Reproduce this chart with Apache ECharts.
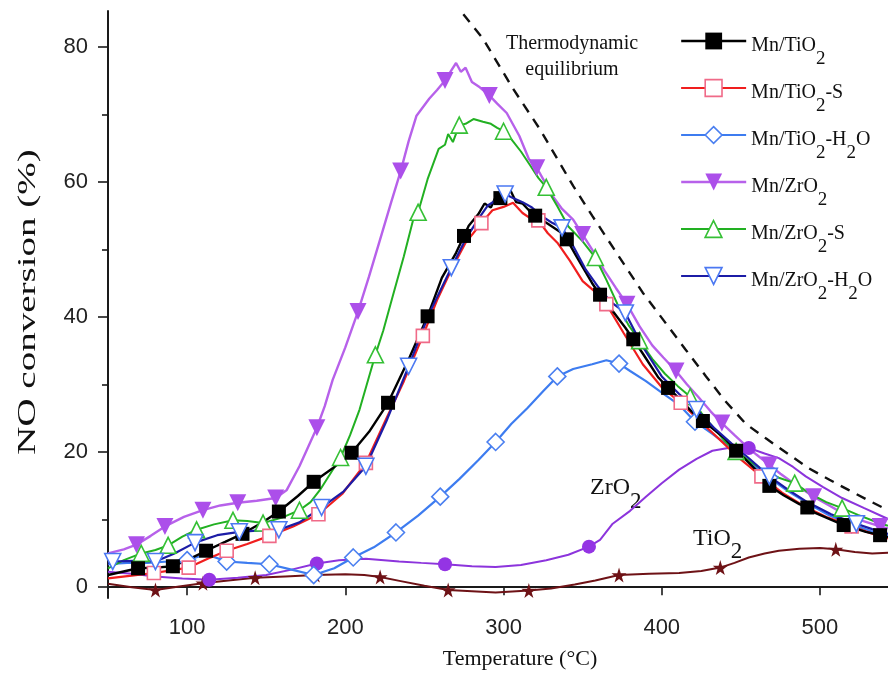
<!DOCTYPE html>
<html>
<head>
<meta charset="utf-8">
<script src="https://cdn.jsdelivr.net/npm/echarts@6/dist/echarts.min.js"></script>
<style>
  html, body { margin: 0; padding: 0; background: #fff; }
  #chart { width: 888px; height: 677px; }
</style>
</head>
<body>
<div id="chart"></div>
<script>
  // ---- data: [temperature °C, NO conversion %] ----
  var xTicks = [100, 200, 300, 400, 500];
  var yTicks = [0, 20, 40, 60, 80];
  var yMinorTicks = [10, 30, 50, 70];

  var mnTiLine = [[50,1.8],[69,2.8],[80,2.9],[91,3.1],[100,4.0],[112,5.4],[124,6.7],[135,7.9],[147,9.5],[158,11.2],[170,13.5],[180,15.6],[192,17.6],[204,19.9],[215,23.0],[227,27.3],[240,33.7],[252,40.1],[261,45.8],[270,49.5],[278,53.5],[284,55.2],[288,56.8],[292,56.2],[296,58.3],[300,57.4],[304,58.9],[308,57.0],[312,56.8],[316,55.8],[320,55.0],[328,53.8],[337,52.4],[346,49.0],[356,45.0],[366,41.8],[377,38.4],[388,34.6],[398,31.0],[409,28.4],[419,26.0],[430,23.9],[440,22.0],[450,19.6],[459,17.5],[468,15.0],[477,13.6],[487,12.3],[497,11.0],[508,9.9],[518,9.0],[529,8.2],[543,7.4]];
  var mnTiMarks = [[69,2.8],[91,3.1],[112,5.4],[135,7.9],[158,11.2],[180,15.6],[204,19.9],[227,27.3],[252,40.1],[275,52.0],[298,57.6],[320,55.0],[340,51.5],[361,43.3],[382,36.7],[404,29.5],[426,24.6],[447,20.2],[468,15.0],[492,11.8],[515,9.2],[538,7.7]];

  var mnTiSLine = [[50,1.3],[65,1.7],[79,2.1],[90,2.5],[101,2.9],[113,4.2],[125,5.4],[138,6.4],[152,7.6],[167,9.0],[183,10.8],[198,13.8],[213,18.4],[225,24.5],[237,30.5],[249,37.2],[258,42.5],[267,47.0],[276,51.0],[286,53.9],[293,55.8],[300,56.3],[306,56.9],[312,55.4],[317,54.6],[322,54.3],[328,52.4],[334,51.0],[342,48.3],[350,45.3],[357,43.9],[365,41.9],[376,37.6],[388,33.0],[400,29.6],[412,27.3],[424,24.6],[436,22.0],[448,19.3],[463,16.4],[476,14.0],[490,12.0],[505,10.3],[520,9.0],[532,8.0],[543,7.2]];
  var mnTiSMarks = [[79,2.1],[101,2.9],[125,5.4],[152,7.6],[183,10.8],[213,18.4],[249,37.2],[286,53.9],[322,54.3],[365,41.9],[412,27.3],[463,16.4],[520,9.0]];

  var mnTiWLine = [[50,3.4],[62,3.6],[75,3.6],[88,3.8],[100,4.0],[112,4.9],[125,3.8],[138,3.6],[152,3.4],[166,2.6],[180,1.8],[193,2.8],[205,4.4],[218,5.9],[232,8.1],[246,10.6],[260,13.4],[272,16.0],[284,18.8],[295,21.5],[305,24.2],[315,26.5],[325,29.0],[334,31.2],[344,32.3],[356,33.0],[365,33.6],[373,33.1],[380,32.0],[390,30.5],[400,28.8],[411,27.0],[421,24.5],[432,22.7],[444,20.6],[456,18.4],[468,16.2],[480,14.2],[493,12.3],[506,10.6],[520,9.3],[532,8.3],[543,7.6]];
  var mnTiWMarks = [[100,4.0],[125,3.8],[152,3.4],[180,1.8],[205,4.4],[232,8.1],[260,13.4],[295,21.5],[334,31.2],[373,33.1],[421,24.5],[468,16.2],[520,9.3]];

  var mnZrLine = [[50,5.0],[60,5.6],[68,6.3],[77,7.6],[86,9.0],[98,10.4],[110,11.4],[121,12.1],[132,12.5],[144,12.8],[156,13.2],[163,14.4],[171,17.9],[176,20.5],[182,23.6],[187,26.8],[192,30.7],[200,35.5],[208,40.8],[215,46.0],[222,51.5],[229,57.0],[235,61.6],[240,66.0],[245,69.8],[253,72.3],[258,73.6],[263,75.0],[267,76.5],[270,77.6],[273,76.3],[276,76.9],[280,74.8],[285,74.0],[291,72.8],[296,71.6],[302,70.2],[310,66.8],[316,63.4],[321,62.1],[326,60.0],[331,57.9],[337,56.0],[344,54.4],[350,52.2],[357,49.6],[364,46.8],[371,44.3],[378,41.9],[386,38.6],[394,35.8],[401,34.0],[409,32.0],[416,30.0],[423,28.2],[431,26.0],[438,24.3],[446,22.5],[453,21.0],[460,19.6],[468,18.1],[475,16.8],[482,15.6],[489,14.5],[496,13.4],[505,12.2],[514,11.0],[522,10.2],[530,9.6],[538,9.0],[543,8.7]];
  var mnZrMarks = [[68,6.3],[86,9.0],[110,11.4],[132,12.5],[156,13.2],[182,23.6],[208,40.8],[235,61.6],[263,75.0],[291,72.8],[321,62.1],[350,52.2],[378,41.9],[409,32.0],[438,24.3],[468,18.1],[496,13.4],[538,9.0]];

  var mnZrSLine = [[50,2.8],[60,4.0],[71,5.0],[80,5.5],[88,6.2],[97,7.5],[106,8.5],[117,9.3],[129,9.9],[138,9.8],[148,9.5],[160,10.3],[171,11.4],[178,12.6],[184,14.4],[190,16.6],[197,19.2],[203,22.5],[209,26.3],[219,34.4],[224,38.0],[230,43.1],[237,49.0],[243,54.5],[246,55.5],[252,60.4],[259,64.9],[263,65.5],[265,67.1],[268,65.9],[272,68.4],[276,68.6],[281,69.3],[287,68.9],[292,68.6],[296,68.0],[300,67.5],[305,66.3],[311,64.5],[317,62.4],[322,60.6],[327,59.2],[334,56.4],[341,53.4],[350,51.2],[358,48.8],[365,45.5],[372,41.9],[379,38.8],[386,36.5],[394,33.8],[402,31.6],[410,29.8],[418,28.2],[425,25.8],[432,23.8],[440,21.6],[447,20.1],[456,18.6],[465,17.2],[474,16.2],[484,15.4],[494,13.8],[504,12.6],[514,11.7],[524,10.7],[534,9.8],[543,9.1]];
  var mnZrSMarks = [[71,5.0],[88,6.2],[106,8.5],[129,9.9],[148,9.5],[171,11.4],[197,19.2],[219,34.4],[246,55.5],[272,68.4],[300,67.5],[327,59.2],[358,48.8],[386,36.5],[418,28.2],[447,20.1],[484,15.4],[514,11.7]];

  var mnZrWLine = [[50,3.5],[53,3.8],[66,3.9],[80,3.8],[92,5.0],[105,6.6],[119,7.7],[133,8.2],[146,8.4],[158,8.5],[171,9.6],[185,11.8],[199,14.2],[213,17.9],[226,24.6],[240,32.7],[253,40.5],[267,47.3],[276,51.5],[284,54.5],[290,56.5],[296,57.4],[301,58.2],[306,57.6],[312,57.0],[318,56.2],[325,54.8],[331,53.9],[337,53.2],[344,50.5],[352,47.0],[360,44.4],[368,42.2],[377,40.6],[388,35.6],[400,31.2],[411,28.6],[422,26.3],[433,23.6],[444,21.3],[456,18.9],[468,16.4],[480,14.4],[492,12.6],[507,10.8],[523,9.4],[533,8.6],[543,7.9]];
  var mnZrWMarks = [[53,3.8],[80,3.8],[105,6.6],[133,8.2],[158,8.5],[185,11.8],[213,17.9],[240,32.7],[267,47.3],[301,58.2],[337,53.2],[377,40.6],[422,26.3],[468,16.4],[523,9.4]];

  var zrLine = [[50,2.3],[65,2.0],[80,1.6],[97,1.3],[114,1.1],[132,1.4],[150,1.8],[166,2.6],[182,3.5],[196,4.0],[213,4.2],[234,3.8],[248,3.6],[263,3.4],[280,3.1],[295,3.0],[311,3.3],[327,4.0],[341,4.8],[354,6.0],[361,7.0],[369,9.4],[380,11.3],[390,13.4],[400,15.4],[411,17.4],[422,19.0],[432,20.2],[442,20.6],[455,20.6],[465,19.8],[474,19.1],[483,17.8],[491,16.4],[502,14.8],[514,13.2],[528,11.7],[543,10.1]];
  var zrMarks = [[114,1.1],[182,3.5],[263,3.4],[354,6.0],[455,20.6]];

  var tiLine = [[50,0.5],[65,0.0],[80,-0.4],[95,0.1],[110,0.6],[126,1.0],[143,1.4],[162,1.6],[181,1.8],[200,1.9],[212,1.8],[222,1.5],[235,0.9],[250,0.2],[265,-0.4],[280,-0.6],[295,-0.8],[316,-0.5],[330,-0.2],[345,0.4],[358,1.0],[373,1.8],[392,2.0],[411,2.1],[425,2.4],[437,2.9],[446,3.6],[455,4.4],[465,5.0],[474,5.4],[487,5.7],[500,5.8],[510,5.6],[522,5.2],[533,5.0],[543,5.1]];
  var tiMarks = [[80,-0.4],[110,0.6],[143,1.4],[181,1.8],[222,1.5],[265,-0.4],[316,-0.5],[373,1.8],[437,2.9],[510,5.6]];

  var equilibrium = [[268,87],[273,85.3],[287,81.2],[306,73.8],[323,67.8],[344,59.4],[356,55.0],[370,50.0],[388,43.6],[415,35.2],[428,31.2],[440,27.6],[453,24.2],[466,22.0],[480,19.7],[493,17.6],[506,15.9],[518,14.4],[531,12.8],[543,11.4]];

  var serif = "'Liberation Serif', 'Times New Roman', serif";
  var sans = "'Liberation Sans', Arial, sans-serif";
  var star = 'path://M50,0 L61,35 L98,35 L68,57 L79,91 L50,70 L21,91 L32,57 L2,35 L39,35 Z';

  // merge the dense curve with its marker points; only markers get a symbol
  function merge(line, marks) {
    var mx = marks.map(function (p) { return p[0]; });
    var pts = line.filter(function (p) { return mx.indexOf(p[0]) < 0; })
      .map(function (p) { return {value: p, symbol: 'none'}; })
      .concat(marks.map(function (p) { return {value: p}; }));
    pts.sort(function (a, b) { return a.value[0] - b.value[0]; });
    return pts;
  }

  var curves = [
    {name: 'TiO2', line: tiLine, marks: tiMarks, color: '#6e1216', symbol: star, size: 15, fill: '#6e1216', width: 2},
    {name: 'ZrO2', line: zrLine, marks: zrMarks, color: '#8c34dc', symbol: 'circle', size: 14, fill: '#9434e4', width: 2},
    {name: 'Mn/TiO2-H2O', line: mnTiWLine, marks: mnTiWMarks, color: '#3d7cf0', symbol: 'diamond', size: 17, fill: '#fff', border: '#4a7ff0', width: 2.2},
    {name: 'Mn/ZrO2', line: mnZrLine, marks: mnZrMarks, color: '#b761ea', symbol: 'triangle', rotate: 180, size: 17, fill: '#ac4fea', width: 2.4},
    {name: 'Mn/ZrO2-S', line: mnZrSLine, marks: mnZrSMarks, color: '#22b022', symbol: 'triangle', size: 16, fill: '#fff', border: '#35c035', width: 2},
    {name: 'Mn/TiO2-S', line: mnTiSLine, marks: mnTiSMarks, color: '#f01e1e', symbol: 'rect', size: 13, fill: '#fff', border: '#f06a88', width: 2.2},
    {name: 'Mn/TiO2', line: mnTiLine, marks: mnTiMarks, color: '#000', symbol: 'rect', size: 14, fill: '#000', width: 2.4},
    {name: 'Mn/ZrO2-H2O', line: mnZrWLine, marks: mnZrWMarks, color: '#1c1ca6', symbol: 'triangle', rotate: 180, size: 16, fill: '#fff', border: '#4b78f2', width: 2.2}
  ];

  var series = curves.map(function (c) {
    return {
      name: c.name,
      type: 'line',
      data: merge(c.line, c.marks),
      symbol: c.symbol,
      symbolSize: c.size,
      symbolRotate: c.rotate || 0,
      showAllSymbol: true,
      lineStyle: {color: c.color, width: c.width},
      itemStyle: {color: c.fill, borderColor: c.border || c.fill, borderWidth: c.border ? 1.6 : 0},
      emphasis: {disabled: true},
      animation: false
    };
  });
  series.push({
    name: 'equilibrium',
    type: 'line',
    data: equilibrium,
    symbol: 'none',
    lineStyle: {color: '#111', width: 2.4, type: [10, 8]},
    animation: false
  });

  var legendNames = ['Mn/TiO2', 'Mn/TiO2-S', 'Mn/TiO2-H2O', 'Mn/ZrO2', 'Mn/ZrO2-S', 'Mn/ZrO2-H2O'];
  var legends = legendNames.map(function (n, i) {
    var c = curves.filter(function (k) { return k.name === n; })[0];
    return {
      data: [n],
      left: 680,
      top: 30 + i * 47,
      padding: 0,
      itemWidth: 65,
      itemHeight: 21,
      itemGap: 0,
      selectedMode: false,
      lineStyle: {color: c.color, width: c.width},
      itemStyle: {color: c.fill, borderColor: c.border || c.fill, borderWidth: c.border ? 1.6 : 0},
      formatter: function (name) {
        return name.split('2').map(function (s) { return '{a|' + s + '}'; }).join('{s|2}');
      },
      textStyle: {
        rich: {
          a: {fontFamily: serif, fontSize: 20, lineHeight: 22, color: '#111', verticalAlign: 'top', padding: [6, 0, 0, 0]},
          s: {fontFamily: serif, fontSize: 19, lineHeight: 22, color: '#111', verticalAlign: 'top', padding: [20, 0, 0, 0]}
        }
      }
    };
  });

  function subText(x, y, main, size, drop) {
    return {
      type: 'text', left: x, top: y, silent: true,
      style: {
        text: '{a|' + main + '}{s|2}',
        rich: {
          a: {fontFamily: serif, fontSize: size, lineHeight: size, fill: '#111', verticalAlign: 'top'},
          s: {fontFamily: serif, fontSize: size - 1, lineHeight: size, fill: '#111', verticalAlign: 'top', padding: [drop, 0, 0, 0]}
        }
      }
    };
  }

  var chart = echarts.init(document.getElementById('chart'));
  chart.setOption({
    backgroundColor: '#fff',
    animation: false,
    grid: {left: 108, right: 0, top: 11, bottom: 79, containLabel: false},
    legend: legends,
    xAxis: [{
      type: 'value', min: 50, max: 543, position: 'bottom',
      name: 'Temperature (°C)', nameLocation: 'middle', nameGap: 50,
      nameTextStyle: {fontFamily: serif, fontSize: 22, color: '#111', padding: [0, 0, 0, 44]},
      axisLine: {show: true, lineStyle: {color: '#1a1a1a', width: 2}},
      axisTick: {show: true, inside: false, length: 8, customValues: xTicks, lineStyle: {color: '#1a1a1a', width: 1.6}},
      axisLabel: {customValues: xTicks, margin: 19, fontFamily: sans, fontSize: 22, color: '#222'},
      splitLine: {show: false}
    }, {
      type: 'value', min: 50, max: 543, position: 'top',
      axisLine: {show: true, lineStyle: {color: '#1a1a1a', width: 2}},
      axisTick: {show: false}, axisLabel: {show: false}, splitLine: {show: false}
    }],
    yAxis: [{
      type: 'value', min: -1.6, max: 85.3, position: 'left',
      axisLine: {show: true, lineStyle: {color: '#1a1a1a', width: 2}},
      axisTick: {show: true, inside: false, length: 10, customValues: yTicks, lineStyle: {color: '#1a1a1a', width: 1.6}},
      axisLabel: {customValues: yTicks, margin: 20, fontFamily: sans, fontSize: 22, color: '#222'},
      splitLine: {show: false}
    }, {
      type: 'value', min: -1.6, max: 85.3, position: 'left',
      axisLine: {show: false},
      axisTick: {show: true, inside: false, length: 6, customValues: yMinorTicks, lineStyle: {color: '#1a1a1a', width: 1.6}},
      axisLabel: {show: false}, splitLine: {show: false}
    }],
    graphic: [
      {
        // y-axis title, stretched along its length as in the source figure
        type: 'text', x: 28, y: 302, rotation: Math.PI / 2, scaleX: 1.5, silent: true,
        style: {text: 'NO conversion (%)', fontFamily: serif, fontSize: 26, fill: '#111', align: 'center', verticalAlign: 'middle'}
      },
      {
        type: 'text', x: 572, y: 31, silent: true,
        style: {text: 'Thermodynamic\nequilibrium', fontFamily: serif, fontSize: 20, lineHeight: 26, fill: '#111', align: 'center', verticalAlign: 'top'}
      },
      subText(590, 476, 'ZrO', 24, 14),
      subText(693, 527, 'TiO', 24, 13)
    ],
    series: series
  });
</script>
</body>
</html>
